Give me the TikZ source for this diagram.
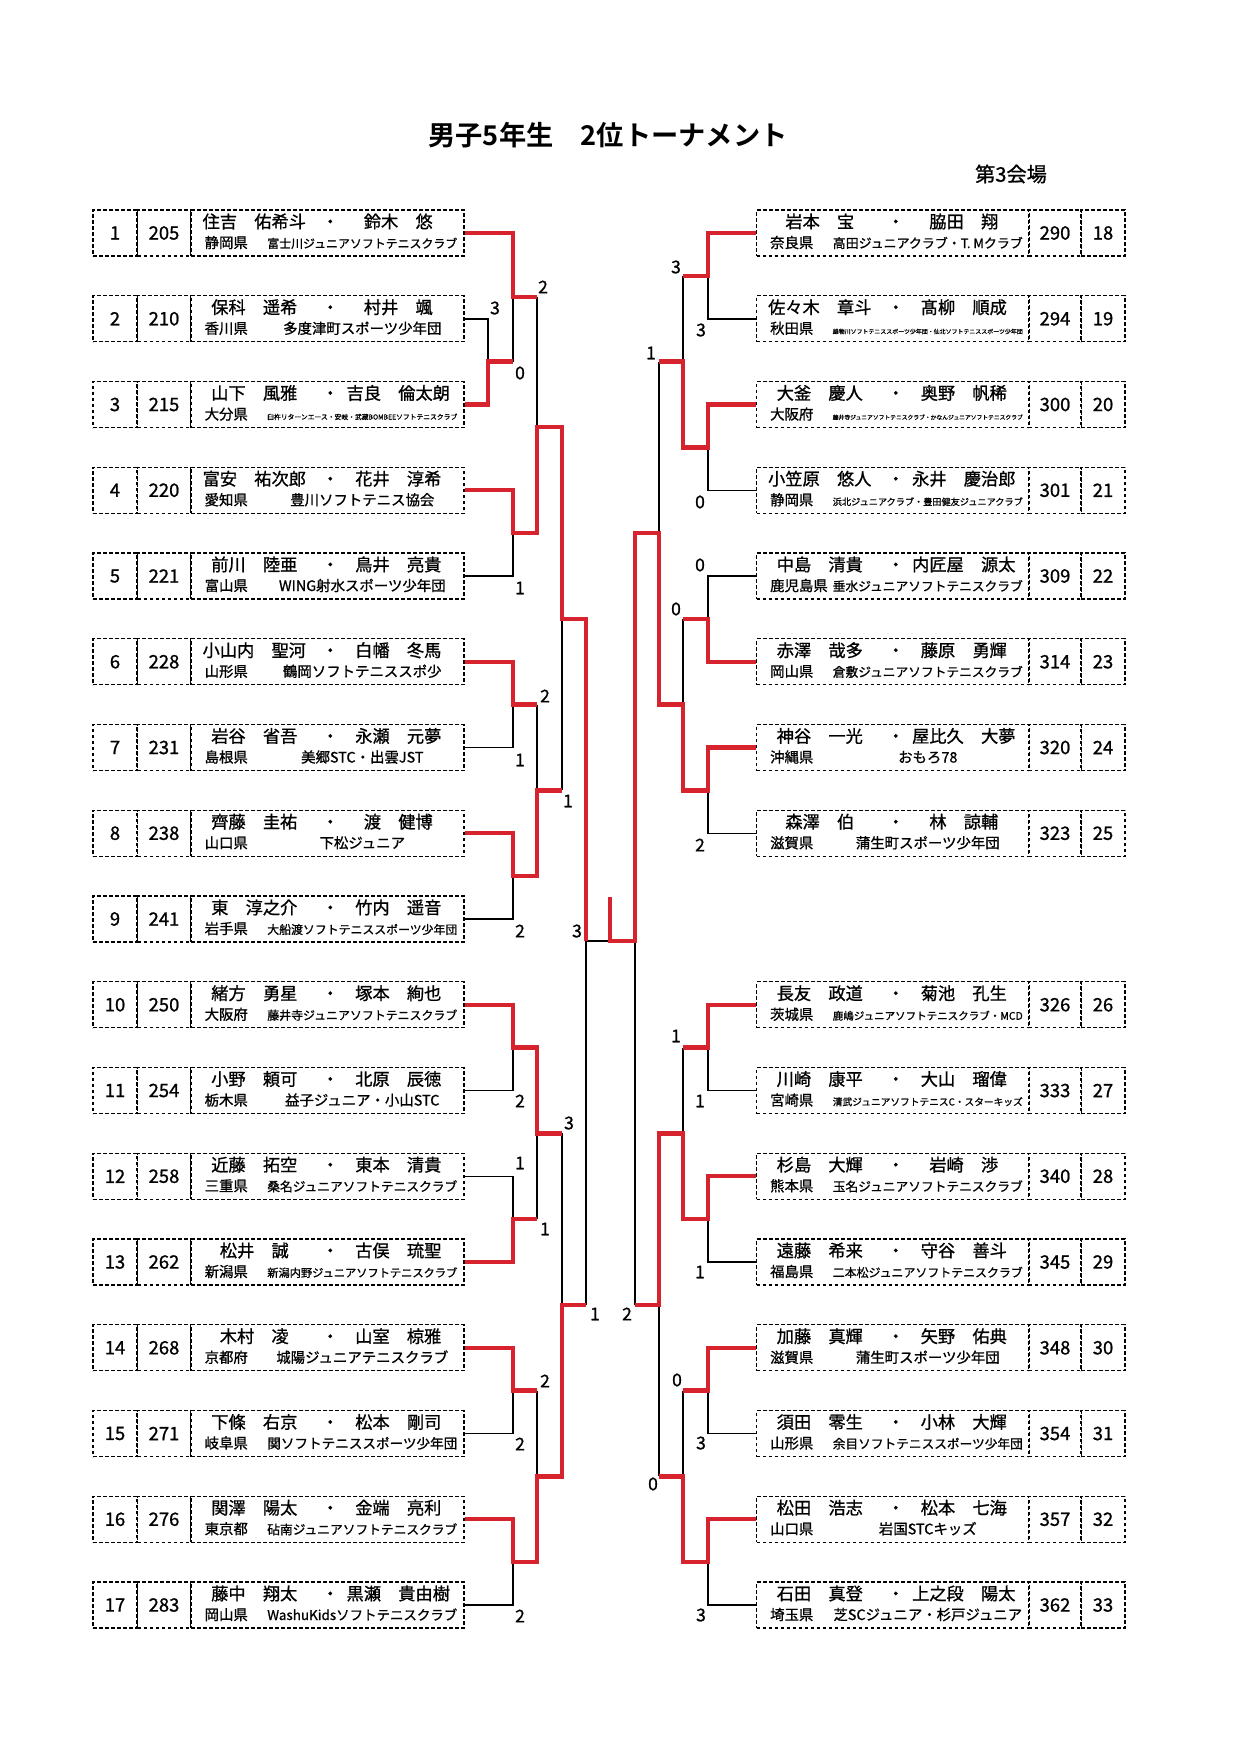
\documentclass[tikz,border=0pt]{standalone}
\usepackage{fontspec}
\setmainfont{Noto Sans CJK JP}[BoldFont={Noto Sans CJK JP Bold}]
\newfontfamily\heavyjp{Noto Sans CJK JP}[BoldFont={Noto Sans CJK JP}, BoldFeatures={FakeBold=1}]
\usepackage{graphicx}
\usepackage{xcolor}
\usetikzlibrary{calc}
\usetikzlibrary{math}
\usetikzlibrary{positioning}

\definecolor{bracketred}{RGB}{215,35,45}

% shrink long club names to the width of their cell
\newsavebox\clubbox
\newlength\clubmax
\setlength\clubmax{38mm}
\newcommand\fitclub[1]{\sbox\clubbox{#1}%
  \ifdim\wd\clubbox>\clubmax\resizebox{\clubmax}{!}{\usebox\clubbox}\else\usebox\clubbox\fi}

\tikzset{
  cell/.style={draw, dash pattern=on 0.75mm off 0.45mm, line width=0.28mm,
    minimum height=9.2mm, inner sep=0pt},
  numcell/.style={cell, minimum width=8.8mm, font=\heavyjp\bfseries\fontsize{10.5}{12}\selectfont},
  seedcell/.style={cell, minimum width=10.6mm, font=\heavyjp\bfseries\fontsize{10.5}{12}\selectfont},
  namecell/.style={cell, minimum width=54.6mm},
  pname/.style={anchor=base, inner sep=0pt, font=\heavyjp\bfseries\fontsize{9.8}{11}\selectfont},
  prefname/.style={anchor=base west, inner sep=0pt, font=\heavyjp\bfseries\fontsize{8.2}{10}\selectfont},
  clubname/.style={anchor=base, inner sep=0pt, font=\heavyjp\bfseries\fontsize{8.2}{10}\selectfont},
  score/.style={inner sep=0pt, font=\heavyjp\bfseries\fontsize{10}{12}\selectfont},
  won/.style={draw=bracketred, line width=0.85mm},
  lost/.style={draw=black, line width=0.3mm},
}

\begin{document}
\begin{tikzpicture}[x=0.2mm,y=-0.2mm]

  \tikzmath{
    \rowtop = 233;   % centre of the first row
    \rowgap = 85.75; % distance between rows
  }

  \path[fill=white] (0,0) rectangle (1240,1754);
  \useasboundingbox (0,0) rectangle (1240,1754);

  % heading
  \node[font=\bfseries\fontsize{15.5}{18}\selectfont] (title) at (608,135) {男子5年生　2位トーナメント};
  \node[font=\heavyjp\bfseries\fontsize{11.5}{14}\selectfont] (venue) at (1011,174) {第3会場};

  % left half: number, seed, pair, prefecture, club
  \foreach \idx/\entseed/\nmA/\nmB/\entpref/\entclub in {
    1/205/住吉　佑希斗/鈴木　悠/静岡県/富士川ジュニアソフトテニスクラブ,
    2/210/保科　遥希/村井　颯/香川県/多度津町スポーツ少年団,
    3/215/山下　風雅/吉良　倫太朗/大分県/臼杵リターンエース・安岐・武蔵BOMBEEソフトテニスクラブ,
    4/220/富安　祐次郎/花井　淳希/愛知県/豊川ソフトテニス協会,
    5/221/前川　陸亜/鳥井　亮貴/富山県/WING射水スポーツ少年団,
    6/228/小山内　聖河/白幡　冬馬/山形県/鶴岡ソフトテニススポ少,
    7/231/岩谷　省吾/永瀬　元夢/島根県/美郷STC・出雲JST,
    8/238/齊藤　圭祐/渡　健博/山口県/下松ジュニア,
    9/241/東　淳之介/竹内　遥音/岩手県/大船渡ソフトテニススポーツ少年団,
    10/250/緒方　勇星/塚本　絢也/大阪府/藤井寺ジュニアソフトテニスクラブ,
    11/254/小野　頼可/北原　辰徳/栃木県/益子ジュニア・小山STC,
    12/258/近藤　拓空/東本　清貴/三重県/桑名ジュニアソフトテニスクラブ,
    13/262/松井　誠/古俣　琉聖/新潟県/新潟内野ジュニアソフトテニスクラブ,
    14/268/木村　凌/山室　椋雅/京都府/城陽ジュニアテニスクラブ,
    15/271/下條　右京/松本　剛司/岐阜県/関ソフトテニススポーツ少年団,
    16/276/関澤　陽太/金端　亮利/東京都/砧南ジュニアソフトテニスクラブ,
    17/283/藤中　翔太/黒瀬　貴由樹/岡山県/WashuKidsソフトテニスクラブ}
  {
    \pgfmathsetmacro\yy{\rowtop+(\idx-1)*\rowgap}
    \node[numcell] (n\idx) at (115,\yy) {\idx};
    \node[seedcell] (s\idx) at (164,\yy) {\entseed};
    \node[namecell] (e\idx) at (327.5,\yy) {};
    \node[pname] (a\idx) at ($(e\idx.west)+(64,-5)$) {\nmA};
    \node[pname] (d\idx) at ($(e\idx.west)+(140,-5)$) {・};
    \node[pname] (b\idx) at ($(e\idx.west)+(208,-5)$) {\nmB};
    \node[prefname] (p\idx) at ($(e\idx.west)+(14,15)$) {\entpref};
    \node[clubname] (c\idx) at ($(e\idx.west)+(172,15)$) {\fitclub{\entclub}};
  }

  % right half: number, row, seed, pair, prefecture, club
  \foreach \idx/\rw/\entseed/\nmA/\nmB/\entpref/\entclub in {
    18/1/290/岩本　宝/脇田　翔/奈良県/高田ジュニアクラブ・T. Mクラブ,
    19/2/294/佐々木　章斗/髙柳　順成/秋田県/雄物川ソフトテニススポーツ少年団・仙北ソフトテニススポーツ少年団,
    20/3/300/大釜　慶人/奥野　帆稀/大阪府/藤井寺ジュニアソフトテニスクラブ・かなんジュニアソフトテニスクラブ,
    21/4/301/小笠原　悠人/永井　慶治郎/静岡県/浜北ジュニアクラブ・豊田健友ジュニアクラブ,
    22/5/309/中島　清貴/内匠屋　源太/鹿児島県/垂水ジュニアソフトテニスクラブ,
    23/6/314/赤澤　哉多/藤原　勇輝/岡山県/倉敷ジュニアソフトテニスクラブ,
    24/7/320/神谷　一光/屋比久　大夢/沖縄県/おもろ78,
    25/8/323/森澤　伯/林　諒輔/滋賀県/蒲生町スポーツ少年団,
    26/10/326/長友　政道/菊池　孔生/茨城県/鹿嶋ジュニアソフトテニスクラブ・MCD,
    27/11/333/川崎　康平/大山　瑠偉/宮崎県/清武ジュニアソフトテニスC・スターキッズ,
    28/12/340/杉島　大輝/岩崎　渉/熊本県/玉名ジュニアソフトテニスクラブ,
    29/13/345/遠藤　希来/守谷　善斗/福島県/二本松ジュニアソフトテニスクラブ,
    30/14/348/加藤　真輝/矢野　佑典/滋賀県/蒲生町スポーツ少年団,
    31/15/354/須田　零生/小林　大輝/山形県/余目ソフトテニススポーツ少年団,
    32/16/357/松田　浩志/松本　七海/山口県/岩国STCキッズ,
    33/17/362/石田　真登/上之段　陽太/埼玉県/芝SCジュニア・杉戸ジュニア}
  {
    \pgfmathsetmacro\yy{\rowtop+(\rw-1)*\rowgap}
    \node[namecell] (e\idx) at (893,\yy) {};
    \node[seedcell] (s\idx) at (1055,\yy) {\entseed};
    \node[numcell] (n\idx) at (1103,\yy) {\idx};
    \node[pname] (a\idx) at ($(e\idx.west)+(64,-5)$) {\nmA};
    \node[pname] (d\idx) at ($(e\idx.west)+(140,-5)$) {・};
    \node[pname] (b\idx) at ($(e\idx.west)+(208,-5)$) {\nmB};
    \node[prefname] (p\idx) at ($(e\idx.west)+(14,15)$) {\entpref};
    \node[clubname] (c\idx) at ($(e\idx.west)+(172,15)$) {\fitclub{\entclub}};
  }

  % junctions, left half
  \coordinate (A23)   at (488, 361.6);
  \coordinate (A123)  at (513, 297.3);
  \coordinate (A45)   at (513, 533.1);
  \coordinate (A15)   at (537, 427);
  \coordinate (A67)   at (513, 704.6);
  \coordinate (A89)   at (513, 876.1);
  \coordinate (A69)   at (537, 790.4);
  \coordinate (A19)   at (562, 619);
  \coordinate (A1011) at (513, 1047.6);
  \coordinate (A1213) at (513, 1219.1);
  \coordinate (A1013) at (537, 1133.4);
  \coordinate (A1415) at (513, 1390.6);
  \coordinate (A1617) at (513, 1562.1);
  \coordinate (A1417) at (537, 1476.4);
  \coordinate (A1017) at (562, 1304.9);
  \coordinate (ASF)   at (586, 941);

  % junctions, right half
  \coordinate (B1819) at (708, 275.9);
  \coordinate (B2021) at (708, 447.4);
  \coordinate (B1821) at (683, 361.6);
  \coordinate (B2223) at (708, 618.9);
  \coordinate (B2425) at (708, 790.4);
  \coordinate (B2225) at (683, 704.6);
  \coordinate (B1825) at (659, 533.1);
  \coordinate (B2627) at (708, 1047.6);
  \coordinate (B2829) at (708, 1219.1);
  \coordinate (B2629) at (683, 1133.4);
  \coordinate (B3031) at (708, 1390.6);
  \coordinate (B3233) at (708, 1562.1);
  \coordinate (B3033) at (683, 1476.4);
  \coordinate (B2633) at (659, 1304.9);
  \coordinate (BSF)   at (635, 941);

  % final
  \coordinate (F) at (610, 941);
  \coordinate (T) at (610, 897);

  % lost matches, left
  \draw[lost] (e2.east) -| (A23);
  \draw[lost] (A23 -| A123) -- (A123);
  \draw[lost] (A123 -| A15) -- (A15);
  \draw[lost] (e5.east) -| (A45);
  \draw[lost] (e7.east) -| (A67);
  \draw[lost] (A67 -| A69) -- (A69);
  \draw[lost] (e9.east) -| (A89);
  \draw[lost] (A69 -| A19) -- (A19);
  \draw[lost] (e11.east) -| (A1011);
  \draw[lost] (e12.east) -| (A1213);
  \draw[lost] (A1213 -| A1013) -- (A1013);
  \draw[lost] (e15.east) -| (A1415);
  \draw[lost] (A1415 -| A1417) -- (A1417);
  \draw[lost] (e17.east) -| (A1617);
  \draw[lost] (A1013 -| A1017) -- (A1017);
  \draw[lost] (A1017 -| ASF) -- (ASF);
  \draw[lost] (ASF) -- (F);

  % lost matches, right
  \draw[lost] (e19.west) -| (B1819);
  \draw[lost] (B1819 -| B1821) -- (B1821);
  \draw[lost] (e21.west) -| (B2021);
  \draw[lost] (B1821 -| B1825) -- (B1825);
  \draw[lost] (e22.west) -| (B2223);
  \draw[lost] (B2223 -| B2225) -- (B2225);
  \draw[lost] (e25.west) -| (B2425);
  \draw[lost] (e27.west) -| (B2627);
  \draw[lost] (B2627 -| B2629) -- (B2629);
  \draw[lost] (e29.west) -| (B2829);
  \draw[lost] (e31.west) -| (B3031);
  \draw[lost] (B3031 -| B3033) -- (B3033);
  \draw[lost] (e33.west) -| (B3233);
  \draw[lost] (B3033 -| B2633) -- (B2633);
  \draw[lost] (B2633 -| BSF) -- (BSF);

  % winners, left
  \draw[won] (e1.east) -| (A123) -- (A123 -| A15);
  \draw[won] (e3.east) -| (A23) -- (A23 -| A123);
  \draw[won] (e4.east) -| (A45) -| (A15) -| (A19) -| (ASF);
  \draw[won] (e6.east) -| (A67) -- (A67 -| A69);
  \draw[won] (e8.east) -| (A89) -| (A69) -- (A69 -| A19);
  \draw[won] (e10.east) -| (A1011) -| (A1013) -- (A1013 -| A1017);
  \draw[won] (e13.east) -| (A1213) -- (A1213 -| A1013);
  \draw[won] (e14.east) -| (A1415) -- (A1415 -| A1417);
  \draw[won] (e16.east) -| (A1617) -| (A1417) -| (A1017) -- (A1017 -| ASF);

  % winners, right
  \draw[won] (e18.west) -| (B1819) -- (B1819 -| B1821);
  \draw[won] (e20.west) -| (B2021) -| (B1821) -- (B1821 -| B1825);
  \draw[won] (e23.west) -| (B2223) -- (B2223 -| B2225);
  \draw[won] (e24.west) -| (B2425) -| (B2225) -| (B1825) -| (BSF) -- (F) -- (T);
  \draw[won] (e26.west) -| (B2627) -- (B2627 -| B2629);
  \draw[won] (e28.west) -| (B2829) -| (B2629) -| (B2633) -- (B2633 -| BSF);
  \draw[won] (e30.west) -| (B3031) -- (B3031 -| B3033);
  \draw[won] (e32.west) -| (B3233) -| (B3033) -- (B3033 -| B2633);

  % scores
  \foreach \px/\py/\sc [count=\i] in {
    495/308/3, 520/373/0, 543/287/2, 520/588/1, 545/696/2, 520/760/1,
    568/801/1, 520/931/2, 577/931/3, 520/1101/2, 569/1123/3, 520/1163/1,
    545/1229/1, 595/1314/1, 545/1381/2, 520/1444/2, 520/1616/2,
    676/267/3, 701/330/3, 651/353/1, 700/502/0, 700/565/0, 676/609/0,
    700/845/2, 627/1314/2, 676/1036/1, 700/1101/1, 700/1272/1,
    677/1380/0, 701/1443/3, 653/1484/0, 701/1615/3}
    \node[score] (g\i) at (\px,\py) {\sc};

\end{tikzpicture}
\end{document}
